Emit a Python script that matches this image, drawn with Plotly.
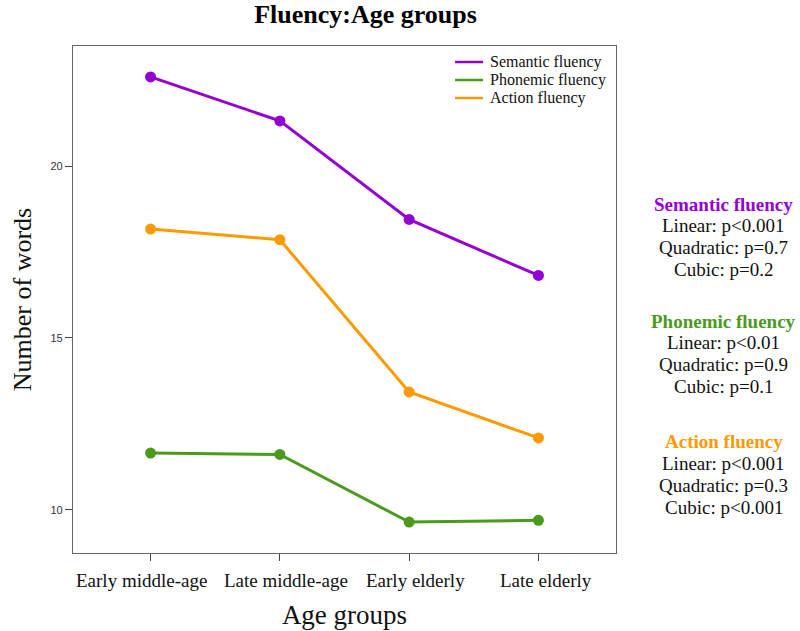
import plotly.graph_objects as go

categories = ["Early middle-age", "Late middle-age", "Early elderly", "Late elderly"]
semantic = [22.60, 21.32, 18.45, 16.82]
phonemic = [11.65, 11.61, 9.64, 9.69]
action = [18.17, 17.86, 13.43, 12.09]
y_ticks = [10, 15, 20]

series_names = ["Semantic fluency", "Phonemic fluency", "Action fluency"]
series_values = [semantic, phonemic, action]
series_colors = ["#9400D3", "#4A9A1C", "#FF9900"]

stats = {
    "Semantic fluency": ["Linear: p<0.001", "Quadratic: p=0.7", "Cubic: p=0.2"],
    "Phonemic fluency": ["Linear: p<0.01", "Quadratic: p=0.9", "Cubic: p=0.1"],
    "Action fluency": ["Linear: p<0.001", "Quadratic: p=0.3", "Cubic: p<0.001"],
}

xpos = list(range(1, len(categories) + 1))
SERIF = "Liberation Serif, Times New Roman, serif"
label_shift = [-9.5, 6, 6.4, 8]  # horizontal label offsets (px) as in the reference

fig = go.Figure()
for name, vals, col in zip(series_names, series_values, series_colors):
    fig.add_trace(go.Scatter(
        x=xpos, y=vals, mode="lines+markers", name=name, showlegend=False,
        line=dict(color=col, width=3),
        marker=dict(color=col, size=11),
    ))

FW, FH = 800, 631
L, R, T, B = 73.3, 615.8, 46, 552.7
H = B - T
W = R - L

def px_x(xpx):
    return (xpx - L) / W

def px_y(ypx):
    return (B - ypx) / H

annotations = []
shapes = []

# category labels under the x ticks
for xv, lab, sh in zip(xpos, categories, label_shift):
    annotations.append(dict(x=xv, y=px_y(580), xref="x", yref="paper", xshift=sh,
                            text=lab, showarrow=False, xanchor="center", yanchor="middle",
                            font=dict(family=SERIF, size=19, color="#111")))

# legend (top right inside plot)
leg_rows = [62, 80, 98]
for name, col, yy in zip(series_names, series_colors, leg_rows):
    shapes.append(dict(type="line", xref="paper", yref="paper",
                       x0=px_x(455), x1=px_x(483), y0=px_y(yy), y1=px_y(yy),
                       line=dict(color=col, width=2.5)))
    annotations.append(dict(x=px_x(488), y=px_y(yy), xref="paper", yref="paper",
                            text=name, showarrow=False, xanchor="left", yanchor="middle",
                            font=dict(family=SERIF, size=16, color="#111")))

# statistics blocks on the right
block_tops = [204, 321, 441.7]
for name, col, top in zip(series_names, series_colors, block_tops):
    annotations.append(dict(
        x=px_x(723.5), y=px_y(top), xref="paper", yref="paper",
        text="<b>" + name + "</b>", showarrow=False, xanchor="center", yanchor="middle",
        font=dict(family=SERIF, size=19, color=col)))
    for i, line in enumerate(stats[name]):
        annotations.append(dict(
            x=px_x(723.5), y=px_y(top + 21.8 * (i + 1)), xref="paper", yref="paper",
            text=line, showarrow=False, xanchor="center", yanchor="middle",
            font=dict(family=SERIF, size=19, color="#111111")))

fig.update_layout(
    width=FW, height=FH,
    margin=dict(l=L, r=FW - R, t=T, b=FH - B, autoexpand=False),
    plot_bgcolor="white", paper_bgcolor="white",
    showlegend=False,
    title=dict(text="<b>Fluency:Age groups</b>", x=365.5 / FW, xanchor="center",
               y=1 - 14 / FH, yanchor="middle",
               font=dict(family=SERIF, size=26, color="black")),
    xaxis=dict(
        range=[0.4, 4.6], tickmode="array", tickvals=xpos, showticklabels=False,
        ticks="outside", ticklen=7, tickcolor="#444", showgrid=False, zeroline=False,
        showline=True, linecolor="#666", linewidth=1.2, mirror=True,
        title=dict(text="Age groups", font=dict(family=SERIF, size=27, color="#111"), standoff=44),
    ),
    yaxis=dict(
        range=[8.74, 23.5], tickmode="array", tickvals=y_ticks,
        ticks="outside", ticklen=7, tickcolor="#444", showgrid=False, zeroline=False,
        showline=True, linecolor="#666", linewidth=1.2, mirror=True,
        tickfont=dict(family="Liberation Sans, Arial, sans-serif", size=11, color="#333"),
        title=dict(text="Number of words", font=dict(family=SERIF, size=26, color="#111"), standoff=11),
    ),
    annotations=annotations,
    shapes=shapes,
)

fig.write_html("out.html", config={"displayModeBar": False},
               post_script="document.body.style.margin='0';")
